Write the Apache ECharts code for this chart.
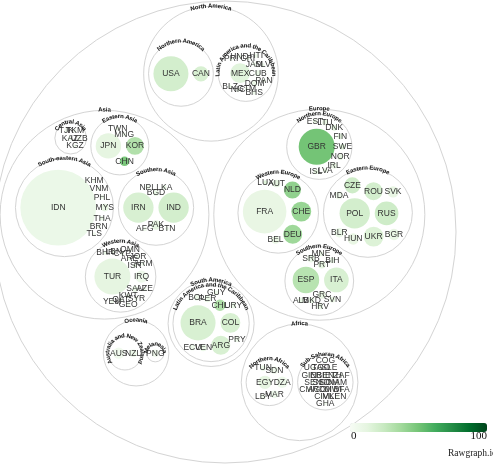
<!DOCTYPE html>
<html>
<head>
<meta charset="utf-8">
<script src="https://cdn.jsdelivr.net/npm/echarts@6/dist/echarts.min.js"></script>
<style>
  html, body { margin: 0; padding: 0; background: #fff; }
  #chart { width: 493px; height: 464px; }
</style>
</head>
<body>
<div id="chart"></div>
<script>
// hierarchy: continent -> region -> country
const continentNames = ["Asia", "Europe", "Africa", "North America", "South America", "Oceania"];
const regionNames = [
  "South-eastern Asia", "Southern Asia", "Western Asia", "Eastern Asia", "Central Asia",
  "Western Europe", "Eastern Europe", "Southern Europe", "Northern Europe",
  "Northern Africa", "Sub-Saharan Africa",
  "Northern America", "Latin America and the Caribbean",
  "Latin America and the Caribbean",
  "Australia and New Zealand", "Melanesia"
];
const regionContinent = [0, 0, 0, 0, 0, 1, 1, 1, 1, 2, 2, 3, 3, 4, 5, 5];

const regionCodes = [
  ["IDN", "MYS", "THA", "PHL", "VNM", "BRN", "KHM", "TLS"],
  ["IRN", "IND", "PAK", "BGD", "NPL", "LKA", "AFG", "BTN"],
  ["TUR", "IRQ", "SAU", "ISR", "ARE", "KWT", "CYP", "QAT", "ARM", "AZE", "JOR", "LBN", "SYR", "YEM", "OMN", "GEO", "BHR"],
  ["JPN", "KOR", "CHN", "MNG", "TWN"],
  ["KAZ", "UZB", "KGZ", "TKM", "TJK"],
  ["FRA", "CHE", "DEU", "NLD", "AUT", "BEL", "LUX"],
  ["POL", "RUS", "UKR", "ROU", "CZE", "HUN", "SVK", "BGR", "BLR", "MDA"],
  ["ESP", "ITA", "GRC", "PRT", "SRB", "MKD", "BIH", "SVN", "HRV", "ALB", "MNE"],
  ["GBR", "SWE", "NOR", "FIN", "DNK", "IRL", "LTU", "LVA", "EST", "ISL"],
  ["EGY", "DZA", "MAR", "SDN", "TUN", "LBY"],
  ["SSD", "SOM", "DJI", "BEN", "ERI", "ETH", "MWI", "AGO", "NAM", "SEN", "GIN", "BFA", "MLI", "TGO", "SLE", "CIV", "COG", "GHA", "CMR", "ZAF", "KEN", "UGA"],
  ["USA", "CAN"],
  ["MEX", "CUB", "DOM", "JAM", "CRI", "GTM", "HND", "NIC", "SLV", "PAN", "HTI", "PRI", "BHS", "BLZ"],
  ["BRA", "COL", "ARG", "CHL", "PER", "VEN", "URY", "PRY", "BOL", "ECU", "GUY"],
  ["AUS", "NZL"],
  ["PNG"]
];
// circle size
const regionSizes = [
  [1600, 16, 6, 5, 5, 4, 4, 4],
  [256, 256, 25, 9, 6, 6, 6, 4],
  [361, 42, 9, 4, 4, 4, 4, 4, 4, 4, 4, 4, 4, 4, 4, 4, 4],
  [180, 90, 25, 4, 4],
  [6, 4, 4, 4, 4],
  [529, 110, 100, 81, 16, 16, 6],
  [256, 156, 110, 90, 72, 36, 36, 36, 25, 16],
  [196, 169, 16, 16, 16, 9, 9, 9, 9, 9, 6],
  [361, 9, 9, 9, 9, 9, 9, 6, 6, 6],
  [49, 36, 16, 16, 9, 9],
  [3, 3, 3, 3, 3, 3, 3, 3, 3, 3, 3, 3, 3, 3, 3, 3, 3, 3, 3, 3, 3, 3],
  [342, 64],
  [110, 9, 9, 4, 4, 4, 4, 4, 4, 4, 4, 4, 4, 4],
  [342, 110, 100, 36, 12, 12, 9, 9, 9, 9, 6],
  [36, 16],
  [16]
];
// colour value, 0-100
const regionIndex = [
  [8, 10, 8, 6, 8, 6, 5, 4],
  [18, 20, 12, 8, 6, 8, 5, 6],
  [12, 6, 8, 10, 8, 8, 8, 8, 6, 6, 6, 6, 5, 4, 6, 6, 8],
  [12, 32, 48, 6, 10],
  [6, 5, 5, 5, 5],
  [10, 40, 38, 42, 12, 10, 14],
  [20, 22, 16, 20, 22, 10, 10, 10, 8, 6],
  [30, 18, 10, 12, 8, 8, 8, 10, 8, 8, 8],
  [50, 14, 12, 12, 12, 10, 10, 10, 10, 12],
  [12, 6, 6, 5, 6, 5],
  [4, 4, 4, 4, 4, 4, 4, 4, 4, 4, 4, 4, 4, 4, 4, 4, 4, 4, 4, 4, 4, 4],
  [20, 18],
  [14, 8, 6, 6, 6, 6, 6, 6, 6, 6, 6, 6, 6, 6],
  [18, 18, 18, 32, 8, 8, 8, 6, 6, 6, 6],
  [4, 6],
  [4]
];

const greens = ["#f7fcf5", "#e5f5e0", "#c7e9c0", "#a1d99b", "#74c476", "#41ab5d", "#238b45", "#006d2c", "#00441b"];

// ---- circle packing (front-chain, as in d3.pack) ----
function place(b, a, c) {
  const dx = b.x - a.x, dy = b.y - a.y, d2 = dx * dx + dy * dy;
  if (d2) {
    let a2 = a.r + c.r, b2 = b.r + c.r, x, y;
    a2 *= a2; b2 *= b2;
    if (a2 > b2) {
      x = (d2 + b2 - a2) / (2 * d2);
      y = Math.sqrt(Math.max(0, b2 / d2 - x * x));
      c.x = b.x - x * dx - y * dy;
      c.y = b.y - x * dy + y * dx;
    } else {
      x = (d2 + a2 - b2) / (2 * d2);
      y = Math.sqrt(Math.max(0, a2 / d2 - x * x));
      c.x = a.x + x * dx - y * dy;
      c.y = a.y + x * dy + y * dx;
    }
  } else {
    c.x = a.x + c.r;
    c.y = a.y;
  }
}
function intersects(a, b) {
  const dr = a.r + b.r - 1e-6, dx = b.x - a.x, dy = b.y - a.y;
  return dr > 0 && dr * dr > dx * dx + dy * dy;
}
function score(node) {
  const a = node._, b = node.next._, ab = a.r + b.r;
  const dx = (a.x * b.r + b.x * a.r) / ab, dy = (a.y * b.r + b.y * a.r) / ab;
  return dx * dx + dy * dy;
}
function enclosesNot(a, b) {
  const dr = a.r - b.r, dx = b.x - a.x, dy = b.y - a.y;
  return dr < 0 || dr * dr < dx * dx + dy * dy;
}
function enclosesWeak(a, b) {
  const dr = a.r - b.r + Math.max(a.r, b.r, 1) * 1e-9, dx = b.x - a.x, dy = b.y - a.y;
  return dr > 0 && dr * dr > dx * dx + dy * dy;
}
function enclosesWeakAll(a, B) {
  return B.every(b => enclosesWeak(a, b));
}
function basis2(a, b) {
  const x21 = b.x - a.x, y21 = b.y - a.y, r21 = b.r - a.r, l = Math.sqrt(x21 * x21 + y21 * y21);
  return { x: (a.x + b.x + x21 / l * r21) / 2, y: (a.y + b.y + y21 / l * r21) / 2, r: (l + a.r + b.r) / 2 };
}
function basis3(a, b, c) {
  const x1 = a.x, y1 = a.y, r1 = a.r, x2 = b.x, y2 = b.y, r2 = b.r, x3 = c.x, y3 = c.y, r3 = c.r;
  const a2 = x1 - x2, a3 = x1 - x3, b2 = y1 - y2, b3 = y1 - y3, c2 = r2 - r1, c3 = r3 - r1;
  const d1 = x1 * x1 + y1 * y1 - r1 * r1, d2 = d1 - x2 * x2 - y2 * y2 + r2 * r2, d3 = d1 - x3 * x3 - y3 * y3 + r3 * r3;
  const ab = a3 * b2 - a2 * b3;
  const xa = (b2 * d3 - b3 * d2) / (ab * 2) - x1, xb = (b3 * c2 - b2 * c3) / ab;
  const ya = (a3 * d2 - a2 * d3) / (ab * 2) - y1, yb = (a2 * c3 - a3 * c2) / ab;
  const A = xb * xb + yb * yb - 1, B = 2 * (r1 + xa * xb + ya * yb), C = xa * xa + ya * ya - r1 * r1;
  const r = -(A ? (B + Math.sqrt(B * B - 4 * A * C)) / (2 * A) : C / B);
  return { x: x1 + xa + xb * r, y: y1 + ya + yb * r, r: r };
}
function encloseBasis(B) {
  if (B.length === 1) return { x: B[0].x, y: B[0].y, r: B[0].r };
  if (B.length === 2) return basis2(B[0], B[1]);
  return basis3(B[0], B[1], B[2]);
}
function extendBasis(B, p) {
  if (enclosesWeakAll(p, B)) return [p];
  for (let i = 0; i < B.length; ++i) {
    if (enclosesNot(p, B[i]) && enclosesWeakAll(basis2(B[i], p), B)) return [B[i], p];
  }
  for (let i = 0; i < B.length - 1; ++i) {
    for (let j = i + 1; j < B.length; ++j) {
      if (enclosesNot(basis2(B[i], B[j]), p) && enclosesNot(basis2(B[i], p), B[j]) &&
          enclosesNot(basis2(B[j], p), B[i]) && enclosesWeakAll(basis3(B[i], B[j], p), B)) {
        return [B[i], B[j], p];
      }
    }
  }
  return [p];
}
function enclose(circles) {
  let i = 0, B = [], e = null;
  while (i < circles.length) {
    const p = circles[i];
    if (e && enclosesWeak(e, p)) ++i;
    else { B = extendBasis(B, p); e = encloseBasis(B); i = 0; }
  }
  return e;
}
function packSiblings(circles) {
  const n = circles.length;
  let a = circles[0], b, c;
  a.x = 0; a.y = 0;
  if (n === 1) return a.r;
  b = circles[1];
  a.x = -b.r; b.x = a.r; b.y = 0;
  if (n === 2) return a.r + b.r;
  place(b, a, c = circles[2]);
  a = { _: a }; b = { _: b }; c = { _: c };
  a.next = c.previous = b;
  b.next = a.previous = c;
  c.next = b.previous = a;
  pack: for (let i = 3; i < n; ++i) {
    place(a._, b._, c = circles[i]);
    c = { _: c };
    let j = b.next, k = a.previous, sj = b._.r, sk = a._.r;
    do {
      if (sj <= sk) {
        if (intersects(j._, c._)) { b = j; a.next = b; b.previous = a; --i; continue pack; }
        sj += j._.r; j = j.next;
      } else {
        if (intersects(k._, c._)) { a = k; a.next = b; b.previous = a; --i; continue pack; }
        sk += k._.r; k = k.previous;
      }
    } while (j !== k.next);
    c.previous = a; c.next = b; a.next = b.previous = b = c;
    let aa = score(a), ca;
    while ((c = c.next) !== b) {
      if ((ca = score(c)) < aa) { a = c; aa = ca; }
    }
    b = a.next;
  }
  const chain = [b._];
  c = b;
  while ((c = c.next) !== b) chain.push(c._);
  const e = enclose(chain);
  for (let i = 0; i < n; ++i) { circles[i].x -= e.x; circles[i].y -= e.y; }
  return e.r;
}

function packNode(node, pad) {
  if (!node.children) { node.r = Math.sqrt(node.value); return; }
  node.children.forEach(ch => packNode(ch, pad));
  node.children.forEach(ch => { ch.r += pad; });
  const e = packSiblings(node.children);
  node.children.forEach(ch => { ch.r -= pad; });
  node.r = e + pad;
}
function sumNode(node) {
  if (node.children) {
    node.value = node.children.reduce((s, ch) => s + sumNode(ch), 0);
    node.children.sort((p, q) => q.value - p.value);
  }
  return node.value;
}

// build tree from the arrays
const root = { name: "World", children: continentNames.map(n => ({ name: n, children: [] })) };
regionNames.forEach((rn, ri) => {
  root.children[regionContinent[ri]].children.push({
    name: rn,
    children: regionCodes[ri].map((code, k) => ({ name: code, value: regionSizes[ri][k], index: regionIndex[ri][k] }))
  });
});
sumNode(root);

const CX = 225, CY = 232, RADIUS = 231, PAD = 2.5;
let k = 1;
packNode(root, 0);
k = RADIUS / root.r;
for (let it = 0; it < 4; it++) {
  packNode(root, PAD / k);
  k = RADIUS / root.r;
}
root.x = 0; root.y = 0;

const groupData = [], groupNames = [], groupDepth = [];
const leafData = [], leafNames = [];
(function walk(node, ox, oy, depth) {
  const ax = ox + node.x, ay = oy + node.y;
  const row = [CX + ax * k, CY + ay * k, node.r * k];
  if (node.children) {
    groupData.push(row); groupNames.push(node.name); groupDepth.push(depth);
    node.children.forEach(ch => walk(ch, ax, ay, depth + 1));
  } else {
    leafData.push(row.concat([node.index])); leafNames.push(node.name);
  }
})(root, 0, 0, 0);

// text along the top of a circle
const measureCtx = document.createElement("canvas").getContext("2d");
const arcFont = "bold 6px 'Liberation Sans', Arial, sans-serif";
measureCtx.font = arcFont;
function arcText(name, cx, cy, r) {
  const R = r + 0.5;
  const chars = Array.from(name);
  const widths = chars.map(ch => measureCtx.measureText(ch).width);
  const total = widths.reduce((s, w) => s + w, 0);
  let theta = -Math.PI / 2 - total / R / 2;
  return chars.map((ch, i) => {
    const mid = theta + widths[i] / 2 / R;
    theta += widths[i] / R;
    return {
      type: "text",
      x: cx + R * Math.cos(mid),
      y: cy + R * Math.sin(mid),
      rotation: -(mid + Math.PI / 2),
      z2: 30,
      style: { text: ch, font: arcFont, fill: "#111", align: "center", verticalAlign: "middle" }
    };
  });
}

const chart = echarts.init(document.getElementById("chart"));
const option = {
  animation: false,
  backgroundColor: "#fff",
  visualMap: {
    type: "continuous",
    min: 0,
    max: 100,
    seriesIndex: 1,
    dimension: 3,
    orient: "horizontal",
    left: 350,
    top: 423,
    padding: 0,
    itemWidth: 9,
    itemHeight: 137,
    calculable: false,
    text: null,
    inRange: { color: greens }
  },
  graphic: [
    { type: "text", left: 351, top: 431, style: { text: "0", font: "11px 'Liberation Serif', serif", fill: "#111" } },
    { type: "text", right: 6, top: 431, style: { text: "100", font: "11px 'Liberation Serif', serif", fill: "#111" } },
    { type: "text", left: 448, top: 448, style: { text: "Rawgraph.io", font: "9.5px 'Liberation Serif', serif", fill: "#222" } }
  ],
  series: [
    {
      type: "custom",
      coordinateSystem: "none",
      data: groupData,
      silent: true,
      renderItem: function (params, api) {
        const cx = api.value(0), cy = api.value(1), r = api.value(2);
        const children = [{
          type: "circle",
          shape: { cx: cx, cy: cy, r: r },
          z2: 1,
          style: { fill: "rgba(255,255,255,0)", stroke: "#d4d4d4", lineWidth: 1 }
        }];
        if (groupDepth[params.dataIndex] > 0) {
          children.push.apply(children, arcText(groupNames[params.dataIndex], cx, cy, r));
        }
        return { type: "group", children: children };
      }
    },
    {
      type: "custom",
      coordinateSystem: "none",
      data: leafData,
      silent: true,
      renderItem: function (params, api) {
        const cx = api.value(0), cy = api.value(1), r = api.value(2);
        return {
          type: "group",
          children: [
            { type: "circle", shape: { cx: cx, cy: cy, r: r }, z2: 5, style: { fill: api.visual("color") } },
            {
              type: "text", x: cx, y: cy, z2: 20,
              style: {
                text: leafNames[params.dataIndex],
                font: "8.5px 'Liberation Sans', Arial, sans-serif",
                fill: "#333", align: "center", verticalAlign: "middle"
              }
            }
          ]
        };
      }
    }
  ]
};
chart.setOption(option);

window.addEventListener("resize", () => {
  chart.resize();
});
</script>
</body>
</html>
